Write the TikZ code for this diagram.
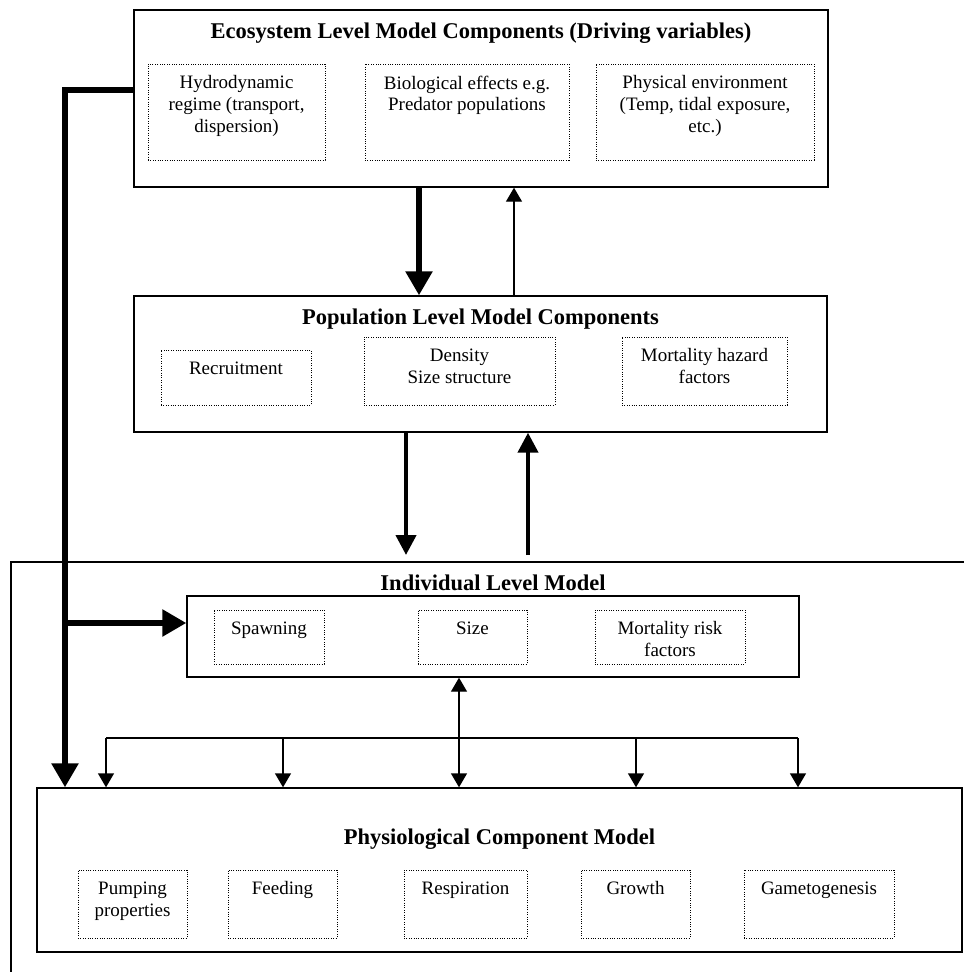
\documentclass[tikz,border=0pt]{standalone}
\usepackage{fontspec}
\setmainfont{Liberation Serif}
\usetikzlibrary{arrows.meta,fit,positioning}

\tikzset{
  model/.style={draw, line width=1pt, inner sep=0pt},
  part/.style={draw, densely dotted, line width=0.7pt, inner sep=0pt},
  heading/.style={font=\fontsize{16}{19}\selectfont\bfseries, inner sep=0pt},
  parttext/.style={font=\fontsize{13.5}{15.5}\selectfont, align=center, inner sep=0pt},
  heavy/.style={line width=4pt, -{Triangle[length=0.6cm, width=0.65cm]}},
  medium/.style={line width=3pt, -{Triangle[length=0.5cm, width=0.5cm]}},
  light/.style={line width=1pt, -{Triangle[length=0.35cm, width=0.4cm]}},
}

\begin{document}
\begin{tikzpicture}[x=0.025cm, y=-0.025cm]
    \useasboundingbox (0,0) rectangle (964,972);

    % ecosystem level
    \node[model, fit={(134,10) (828,187)},
      label={[heading, below=0.33cm]north:Ecosystem Level Model Components (Driving variables)}] (eco) {};
    \node[part, fit={(148,64) (325,160)},
      label={[parttext, below=0.3cm]north:Hydrodynamic\\regime (transport,\\dispersion)}] (hydro) {};
    \node[part, fit={(365,64) (569,160)},
      label={[parttext, below=0.3cm]north:Biological effects e.g.\\Predator populations}] (bio) {};
    \node[part, fit={(596,64) (814,160)},
      label={[parttext, below=0.3cm]north:Physical environment\\(Temp, tidal exposure,\\etc.)}] (env) {};

    % population level
    \node[model, fit={(134,296) (827,432)},
      label={[heading, below=0.33cm]north:Population Level Model Components}] (pop) {};
    \node[part, fit={(161,350) (311,405)},
      label={[parttext, below=0.3cm]north:Recruitment}] (recruit) {};
    \node[part, fit={(364,337) (555,405)},
      label={[parttext, below=0.3cm]north:Density\\Size structure}] (dens) {};
    \node[part, fit={(622,337) (787,405)},
      label={[parttext, below=0.3cm]north:Mortality hazard\\factors}] (hazard) {};

    % individual level
    \draw[line width=1pt] (964,562) -- (11,562) -- (11,972);
    \node[model, fit={(187,596) (799,677)},
      label={[heading, above=0.1cm]north:Individual Level Model}] (ind) {};
    \node[part, fit={(214,610) (324,664)},
      label={[parttext, below=0.3cm]north:Spawning}] (spawn) {};
    \node[part, fit={(418,610) (527,664)},
      label={[parttext, below=0.3cm]north:Size}] (size) {};
    \node[part, fit={(595,610) (745,664)},
      label={[parttext, below=0.3cm]north:Mortality risk\\factors}] (risk) {};

    % physiological level
    \node[model, fit={(37,788) (962,952)},
      label={[heading, below=1.03cm]north:Physiological Component Model}] (phys) {};
    \node[part, fit={(78,870) (187,938)},
      label={[parttext, below=0.3cm]north:Pumping\\properties}] (pump) {};
    \node[part, fit={(228,870) (337,938)},
      label={[parttext, below=0.3cm]north:Feeding}] (feed) {};
    \node[part, fit={(404,870) (527,938)},
      label={[parttext, below=0.3cm]north:Respiration}] (resp) {};
    \node[part, fit={(581,870) (690,938)},
      label={[parttext, below=0.3cm]north:Growth}] (growth) {};
    \node[part, fit={(744,870) (894,938)},
      label={[parttext, below=0.3cm]north:Gametogenesis}] (gameto) {};

    \coordinate (split) at (65,623);
    \coordinate (popdown) at (406,555);
    \coordinate (popup) at (528,555);

    % driving variables
    \draw[heavy] (eco.west |- 0,90) -| (phys.north -| 65,0);
    \draw[heavy] (split) -- (ind.west |- split);
    \draw[heavy] (eco.south -| 419,0) -- (pop.north -| 419,0);
    \draw[light] (pop.north -| 514,0) -- (eco.south -| 514,0);

    % population <-> individual
    \draw[medium] (pop.south -| popdown) -- (popdown);
    \draw[medium] (popup) -- (pop.south -| popup);

    % individual <-> physiology
    \draw[line width=1pt] (106,738) -- (798,738);
    \foreach \x in {106,283,636,798}
      \draw[light] (\x,738) -- (phys.north -| \x,0);
    \draw[light, {Triangle[length=0.35cm, width=0.4cm]}-{Triangle[length=0.35cm, width=0.4cm]}]
      (ind.south -| 459,0) -- (phys.north -| 459,0);
\end{tikzpicture}
\end{document}
